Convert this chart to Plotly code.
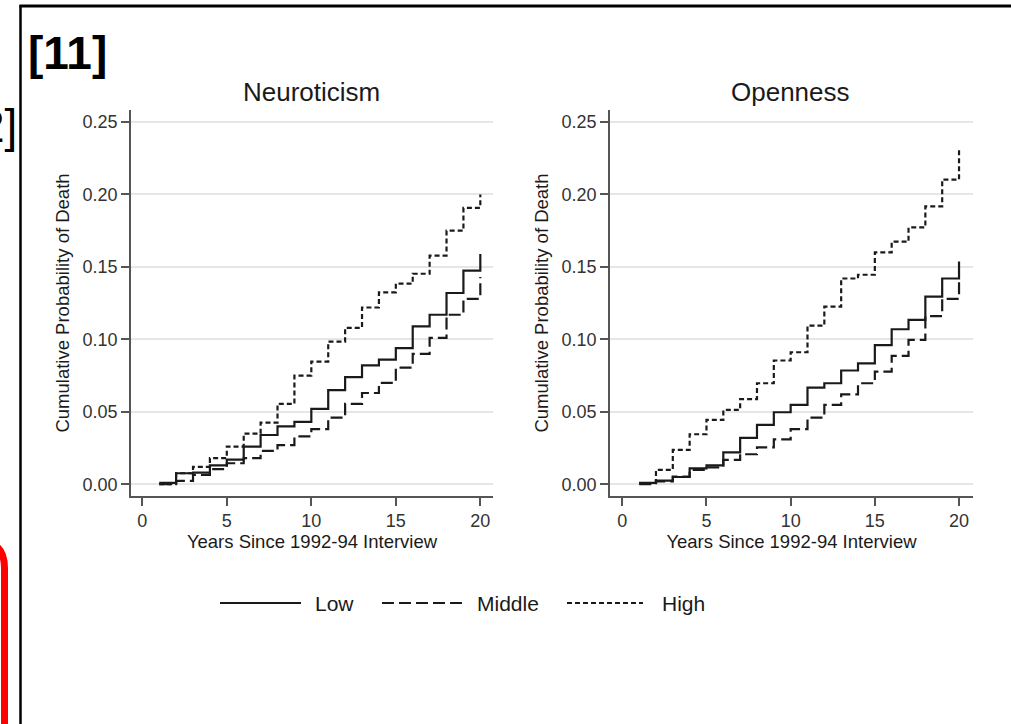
import plotly.graph_objects as go

W, H = 1011, 724

years = list(range(1, 21))
x_ticks = [0, 5, 10, 15, 20]
y_ticks = [0.00, 0.05, 0.10, 0.15, 0.20, 0.25]
groups = ["Low", "Middle", "High"]
panel_titles = ["Neuroticism", "Openness"]

# Neuroticism panel (cumulative probability at each year; hv steps)
neuro_low = [0.001, 0.0076, 0.008, 0.013, 0.017, 0.026, 0.034, 0.040, 0.043, 0.052,
             0.065, 0.074, 0.082, 0.086, 0.094, 0.109, 0.117, 0.132, 0.1475, 0.159]
neuro_mid = [0.000, 0.0023, 0.0064, 0.0104, 0.0145, 0.018, 0.023, 0.027, 0.033, 0.038,
             0.046, 0.0555, 0.063, 0.070, 0.0805, 0.090, 0.101, 0.117, 0.128, 0.143]
neuro_high = [0.000, 0.0076, 0.012, 0.018, 0.026, 0.035, 0.0426, 0.0555, 0.075, 0.0847,
              0.0985, 0.108, 0.122, 0.1325, 0.1385, 0.1453, 0.1578, 0.175, 0.1907, 0.200]

# Openness panel
open_low = [0.001, 0.0025, 0.005, 0.011, 0.013, 0.022, 0.032, 0.041, 0.0497, 0.0548,
            0.0667, 0.0697, 0.0785, 0.0835, 0.096, 0.107, 0.1134, 0.1295, 0.142, 0.1537]
open_mid = [0.000, 0.002, 0.0053, 0.0099, 0.0117, 0.0168, 0.0207, 0.0255, 0.031, 0.038,
            0.046, 0.0548, 0.062, 0.0697, 0.0778, 0.0886, 0.0996, 0.116, 0.128, 0.141]
open_high = [0.0007, 0.0099, 0.0237, 0.0345, 0.0444, 0.0513, 0.0587, 0.0697, 0.0854, 0.0911,
             0.1095, 0.1226, 0.142, 0.1446, 0.160, 0.1674, 0.1773, 0.1918, 0.2103, 0.231]

FONT = "Liberation Sans, Arial, Helvetica, sans-serif"
INK = "#1a1a1a"
styles = {
    "Low": dict(color=INK, width=2.2, dash="solid"),
    "Middle": dict(color=INK, width=2.2, dash="12px,5px"),
    "High": dict(color=INK, width=2.2, dash="5px,3px"),
}

def px_x(p):
    return p / W

def px_y(p):
    return 1 - p / H

fig = go.Figure()
panels = [
    ("x", "y", [neuro_low, neuro_mid, neuro_high]),
    ("x2", "y2", [open_low, open_mid, open_high]),
]
for xa, ya, series in panels:
    for name, vals in zip(groups, series):
        fig.add_trace(go.Scatter(
            x=years, y=vals, mode="lines", name=name, line=styles[name],
            line_shape="hv", xaxis=xa, yaxis=ya, showlegend=False,
            hoverinfo="skip"))

axis_common = dict(
    showline=True, linecolor="#555555", linewidth=1.5,
    ticks="outside", ticklen=8, tickwidth=1.5, tickcolor="#555555",
    tickfont=dict(family=FONT, size=18, color="#333333"),
    zeroline=False,
)
xcommon = dict(axis_common, showgrid=False, tickvals=x_ticks,
               title=dict(text="Years Since 1992-94 Interview",
                          font=dict(family=FONT, size=18.5, color=INK), standoff=0))
ycommon = dict(axis_common, showgrid=True, gridcolor="#e6e6e6", gridwidth=1.5,
               tickvals=y_ticks, tickformat=".2f", range=[-0.0081, 0.2583],
               title=dict(text="Cumulative Probability of Death",
                          font=dict(family=FONT, size=18.5, color=INK), standoff=8))

ydom = [px_y(496), px_y(110)]
fig.update_layout(
    width=W, height=H, autosize=False,
    margin=dict(l=0, r=0, t=0, b=0),
    paper_bgcolor="white", plot_bgcolor="white",
    font=dict(family=FONT, color=INK),
    xaxis=dict(xcommon, domain=[px_x(131), px_x(493)], range=[-0.669, 20.75], anchor="y"),
    yaxis=dict(ycommon, domain=ydom, anchor="x"),
    xaxis2=dict(xcommon, domain=[px_x(610), px_x(973)], range=[-0.73, 20.83], anchor="y2"),
    yaxis2=dict(ycommon, domain=ydom, anchor="x2"),
    showlegend=False,
)

annotations = []
# Panel titles
for xref, title in zip(["x", "x2"], panel_titles):
    annotations.append(dict(text=title, xref=xref, yref="paper", x=10, y=px_y(92),
                            xanchor="center", yanchor="middle", showarrow=False,
                            font=dict(family=FONT, size=26, color=INK)))
# Reference tags
annotations.append(dict(text="<b>[11]</b>", xref="paper", yref="paper", x=px_x(26), y=px_y(53),
                        xanchor="left", yanchor="middle", showarrow=False,
                        font=dict(family=FONT, size=46, color="black")))
annotations.append(dict(text="2]", xref="paper", yref="paper", x=px_x(19), y=px_y(126),
                        xanchor="right", yanchor="middle", showarrow=False,
                        font=dict(family=FONT, size=46, color="black")))

# Manual legend
legend_y = px_y(603)
legend_items = [("Low", 220, 301, 313), ("Middle", 382, 463, 475), ("High", 567, 643, 660)]
shapes = []
for name, x0, x1, tx in legend_items:
    st = styles[name]
    shapes.append(dict(type="line", xref="paper", yref="paper", x0=px_x(x0), x1=px_x(x1),
                       y0=legend_y, y1=legend_y,
                       line=dict(color=st["color"], width=st["width"], dash=st["dash"])))
    annotations.append(dict(text=name, xref="paper", yref="paper", x=px_x(tx), y=legend_y,
                            xanchor="left", yanchor="middle", showarrow=False,
                            font=dict(family=FONT, size=21, color=INK)))

# Frame of the screenshot
shapes.append(dict(type="line", xref="paper", yref="paper", x0=px_x(20.5), x1=px_x(20.5),
                   y0=px_y(5), y1=-0.01, line=dict(color="black", width=2.5)))
shapes.append(dict(type="line", xref="paper", yref="paper", x0=px_x(19.5), x1=1.01,
                   y0=px_y(6), y1=px_y(6), line=dict(color="black", width=3)))
# Red rounded box edge at the left
r0 = px_y(541)
shapes.append(dict(type="path", xref="paper", yref="paper",
                   path=(f"M {px_x(-30)},{r0} L {px_x(-22)},{r0} "
                         f"Q {px_x(4.5)},{r0} {px_x(4.5)},{px_y(568)} "
                         f"L {px_x(4.5)},{px_y(740)}"),
                   line=dict(color="#ff0000", width=7)))

fig.update_layout(annotations=annotations, shapes=shapes)
fig.write_html("out.html")
